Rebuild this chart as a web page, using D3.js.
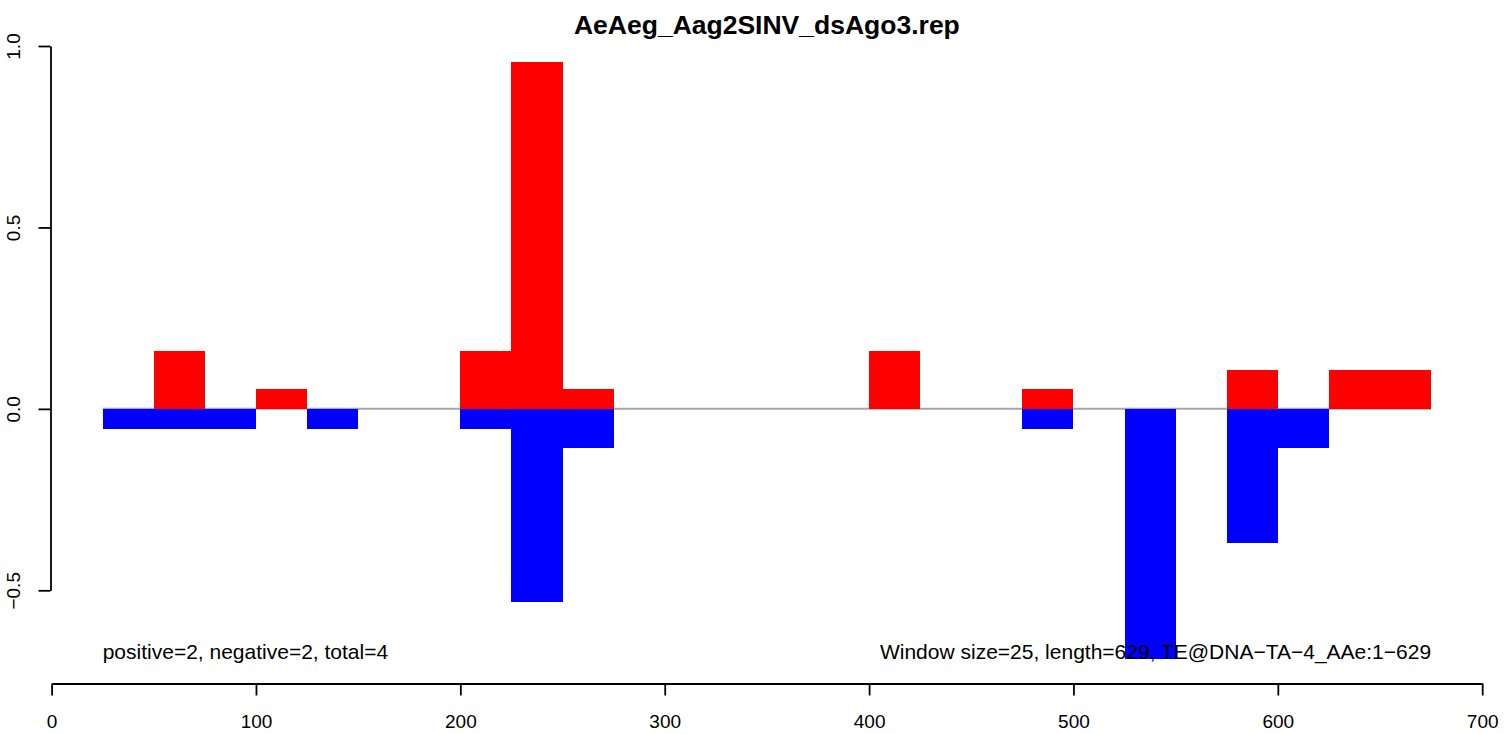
<!DOCTYPE html>
<html>
<head>
<meta charset="utf-8">
<script src="https://cdn.jsdelivr.net/npm/d3@7"></script>
<style>
html,body{margin:0;padding:0;background:#fff;}
svg{display:block;font-family:"Liberation Sans",Arial,Helvetica,sans-serif;}
</style>
</head>
<body>
<svg id="chart" width="1506" height="734"></svg>
<script>
const title = "AeAeg_Aag2SINV_dsAgo3.rep";
const windowSize = 25;
const xTicks = [0, 100, 200, 300, 400, 500, 600, 700];
const yTicks = [-0.5, 0, 0.5, 1.0];
const redStarts = [50, 100, 200, 225, 250, 400, 475, 575, 625, 650];
const redValues = [0.160, 0.055, 0.160, 0.956, 0.055, 0.160, 0.055, 0.107, 0.107, 0.107];
const blueStarts = [25, 50, 75, 125, 200, 225, 250, 475, 525, 575, 600];
const blueValues = [-0.055, -0.055, -0.055, -0.055, -0.055, -0.532, -0.107, -0.055, -0.690, -0.371, -0.107];
const leftNote = "positive=2, negative=2, total=4";
const rightNote = "Window size=25, length=629, TE@DNA\u2212TA\u22124_AAe:1\u2212629";
const lineRange = [25, 675];

const svg = d3.select("#chart");
const x = d3.scaleLinear().domain([0, 700]).range([51.6, 1482.2]);
const y = d3.scaleLinear().domain([-0.5, 1.0]).range([590.3, 46]);

// zero line
svg.append("line")
  .attr("x1", x(lineRange[0])).attr("x2", x(lineRange[1]))
  .attr("y1", y(0)).attr("y2", y(0))
  .attr("stroke", "#a6a6a6").attr("stroke-width", 2);

const redData = redStarts.map((s, i) => ({s, v: redValues[i]}));
const blueData = blueStarts.map((s, i) => ({s, v: blueValues[i]}));

svg.append("g").selectAll("rect").data(redData).join("rect")
  .attr("x", d => x(d.s)).attr("width", d => x(d.s + windowSize) - x(d.s))
  .attr("y", d => y(d.v)).attr("height", d => y(0) - y(d.v))
  .attr("fill", "#ff0000").attr("shape-rendering", "crispEdges");

svg.append("g").selectAll("rect").data(blueData).join("rect")
  .attr("x", d => x(d.s)).attr("width", d => x(d.s + windowSize) - x(d.s))
  .attr("y", y(0)).attr("height", d => y(d.v) - y(0))
  .attr("fill", "#0000ff").attr("shape-rendering", "crispEdges");

// x axis
const xAxis = svg.append("g").attr("transform", "translate(0,683.5)")
  .call(d3.axisBottom(x).tickValues(xTicks).tickFormat(d3.format("d")).tickSize(12).tickPadding(19).tickSizeOuter(0));
xAxis.select(".domain").attr("stroke", "#000").attr("stroke-width", 1.8);
xAxis.selectAll(".tick line").attr("stroke", "#000").attr("stroke-width", 1.8);
xAxis.selectAll(".tick text").attr("font-size", 19).attr("fill", "#000")
  .attr("font-family", "Liberation Sans, Arial, sans-serif");

// y axis
const yAxis = svg.append("g").attr("transform", "translate(50.5,0)")
  .call(d3.axisLeft(y).tickValues(yTicks).tickFormat(d3.format(".1f")).tickSize(12).tickSizeOuter(0));
yAxis.select(".domain").attr("stroke", "#000").attr("stroke-width", 1.8);
yAxis.selectAll(".tick line").attr("stroke", "#000").attr("stroke-width", 1.8);
yAxis.selectAll(".tick text").remove();
yAxis.selectAll(".tick").append("text")
  .attr("transform", "translate(-30.5,0) rotate(-90)")
  .attr("text-anchor", "middle")
  .attr("font-size", 19).attr("fill", "#000")
  .attr("font-family", "Liberation Sans, Arial, sans-serif")
  .text(d => d3.format(".1f")(d));

// title
svg.append("text").attr("x", (x(0) + x(700)) / 2).attr("y", 34)
  .attr("text-anchor", "middle").attr("font-weight", "bold").attr("font-size", 26.5)
  .text(title);

// notes
svg.append("text").attr("x", x(lineRange[0])).attr("y", 659)
  .attr("font-size", 21).text(leftNote);
svg.append("text").attr("x", x(lineRange[1])).attr("y", 659)
  .attr("text-anchor", "end").attr("font-size", 21).text(rightNote);
</script>
</body>
</html>
